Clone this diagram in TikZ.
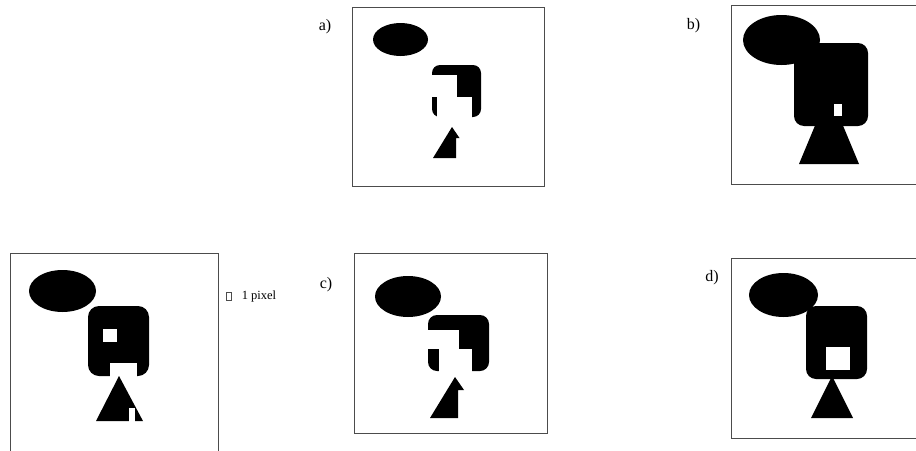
\documentclass[tikz,border=0pt]{standalone}
\usepackage{fontspec}
\setmainfont{Liberation Serif}
\begin{document}
\begin{tikzpicture}[x=1pt,y=-1pt,
  frame/.style={draw=black!70,line width=0.9pt},
  blk/.style={fill=black},
  wht/.style={fill=white},
  lbl/.style={font=\fontsize{16}{16}\selectfont,inner sep=0pt}]
\useasboundingbox (0,0) rectangle (916,450);
\clip (0,0) rectangle (916,450);
% ---------- original (bottom-left)
\draw[frame] (10,253) rectangle (218,470);
\fill[blk] (62.5,291) ellipse [x radius=33.5,y radius=21];
\fill[blk,rounded corners=11] (88,306) rectangle (149,376);
\fill[wht] (110,363) rectangle (137,377);
\fill[wht] (103,329) rectangle (117,342);
\fill[blk] (96,421) -- (119,376) -- (143,421) -- cycle;
\fill[wht] (129,408) rectangle (135,422);
\draw[draw=black!70,line width=0.6pt] (226.5,292.5) rectangle (231.5,300);
\node[inner sep=0pt,font=\fontsize{12.5}{12.5}\selectfont] (pix) at (259,296.5) {1 pixel};
% ---------- a)
\node[lbl] (la) at (325,27) {a)};
\draw[frame] (352,7) rectangle (544,186);
\fill[blk] (400.5,39.5) ellipse [x radius=27.5,y radius=16.5];
\fill[blk,rounded corners=8] (432,65) rectangle (481,117);
\fill[wht] (431,75) rectangle (457,97);
\fill[wht] (437,97) rectangle (472,118);
\fill[blk] (433,158) -- (452,127) -- (459.5,138) -- (456,138) -- (456,158) -- cycle;
% ---------- b)
\node[lbl] (lb) at (693.5,26) {b)};
\draw[frame] (731,5) rectangle (930,184);
\fill[blk] (829,92) -- (859,164) -- (799,164) -- cycle;
\fill[blk,rounded corners=10] (794,43) rectangle (868,126);
\fill[blk] (781.5,40) ellipse [x radius=38.5,y radius=25];
\fill[wht] (834,104) rectangle (842,116);
% ---------- c)
\node[lbl] (lc) at (326,285) {c)};
\draw[frame] (354,253) rectangle (547,433);
\fill[blk] (408,296.5) ellipse [x radius=33,y radius=20.5];
\fill[blk,rounded corners=9] (428,315) rectangle (489,371);
\fill[wht] (427,330) rectangle (459,349);
\fill[wht] (439,349) rectangle (472,372);
\fill[blk] (430,418) -- (455,377) -- (464,390) -- (458,390) -- (458,418) -- cycle;
% ---------- d)
\node[lbl] (ld) at (712,278) {d)};
\draw[frame] (731,258) rectangle (930,438);
\fill[blk] (832,376) -- (853,418) -- (811,418) -- cycle;
\fill[blk,rounded corners=10] (806,306) rectangle (867,379);
\fill[blk] (783.5,295) ellipse [x radius=34.5,y radius=22];
\fill[wht] (826,347) rectangle (850,370);
\end{tikzpicture}
\end{document}
